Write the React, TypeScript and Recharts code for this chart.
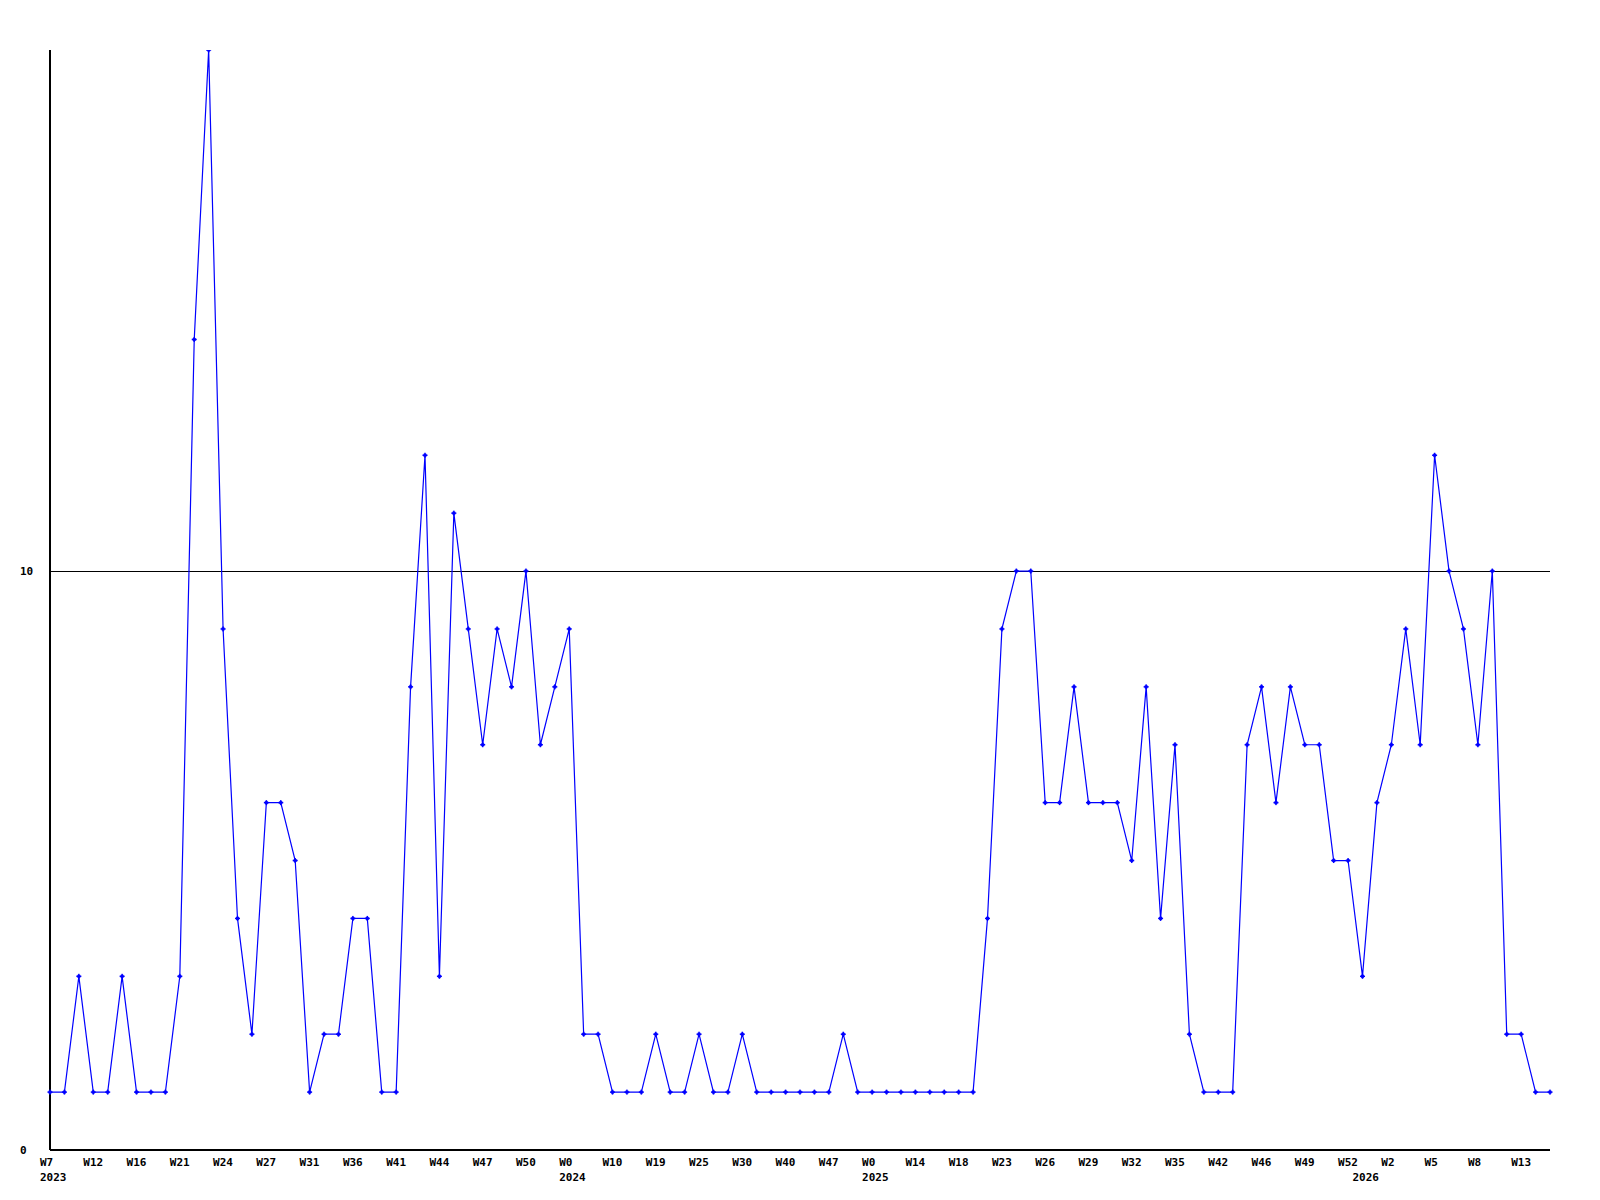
import React from 'react';
import { LineChart, Line, XAxis, YAxis, CartesianGrid } from 'recharts';

const values: number[] = [
  1, 1, 3, 1, 1, 3, 1, 1, 1, 3,
  14, 19, 9, 4, 2, 6, 6, 5, 1, 2,
  2, 4, 4, 1, 1, 8, 12, 3, 11, 9,
  7, 9, 8, 10, 7, 8, 9, 2, 2, 1,
  1, 1, 2, 1, 1, 2, 1, 1, 2, 1,
  1, 1, 1, 1, 1, 2, 1, 1, 1, 1,
  1, 1, 1, 1, 1, 4, 9, 10, 10, 6,
  6, 8, 6, 6, 6, 5, 8, 4, 7, 2,
  1, 1, 1, 7, 8, 6, 8, 7, 7, 5,
  5, 3, 6, 7, 9, 7, 12, 10, 9, 7,
  10, 2, 2, 1, 1,
];

const weekTickLabels: string[] = [
  'W7', 'W12', 'W16', 'W21', 'W24', 'W27', 'W31', 'W36', 'W41', 'W44',
  'W47', 'W50', 'W0', 'W10', 'W19', 'W25', 'W30', 'W40', 'W47', 'W0',
  'W14', 'W18', 'W23', 'W26', 'W29', 'W32', 'W35', 'W42', 'W46', 'W49',
  'W52', 'W2', 'W5', 'W8', 'W13',
];
const weekTickEvery = 3;

const yearNames: string[] = ['2023', '2024', '2025', '2026'];
const yearStartIndex: number[] = [0, 36, 57, 91];

const yTicks: number[] = [0, 10];
const gridValues: number[] = [10];

const data = values.map((v, i) => ({ idx: i, value: v }));

const FONT = '"DejaVu Sans Mono", monospace';

const XTick = (props: any) => {
  const { x, y, payload } = props;
  const i = payload.value as number;
  const week = i % weekTickEvery === 0 ? weekTickLabels[i / weekTickEvery] : undefined;
  const yi = yearStartIndex.indexOf(i);
  const year = yi >= 0 ? yearNames[yi] : undefined;
  return (
    <g>
      {week && (
        <text x={x - 10} y={y + 16} textAnchor="start" fontFamily={FONT} fontWeight="bold" fontSize={11} fill="#000">
          {week}
        </text>
      )}
      {year && (
        <text x={x - 10} y={y + 31} textAnchor="start" fontFamily={FONT} fontWeight="bold" fontSize={11} fill="#000">
          {year}
        </text>
      )}
    </g>
  );
};

const YTick = (props: any) => {
  const { y, payload } = props;
  return (
    <text x={20} y={y + 4} textAnchor="start" fontFamily={FONT} fontWeight="bold" fontSize={11} fill="#000">
      {payload.value}
    </text>
  );
};

const PlusDot = (props: any) => {
  const { cx, cy } = props;
  if (cx == null || cy == null) return null;
  return (
    <g>
      <rect x={cx - 2.5} y={cy - 0.75} width={5} height={1.5} fill="#0000ff" />
      <rect x={cx - 0.75} y={cy - 2.5} width={1.5} height={5} fill="#0000ff" />
      <rect x={cx - 1.5} y={cy - 1.5} width={3} height={3} fill="#0000ff" />
    </g>
  );
};

export default function App() {
  return (
    <div style={{ position: 'absolute', left: 0, top: 0, width: 1600, height: 1200, background: '#fff' }}>
      <LineChart width={1600} height={1200} data={data} margin={{ top: 50, right: 50, bottom: 0, left: 0 }}>
        <CartesianGrid
          vertical={false}
          horizontal={true}
          horizontalValues={gridValues}
          stroke="#000"
          strokeWidth={1}
          shapeRendering="crispEdges"
        />
        <XAxis
          dataKey="idx"
          type="category"
          interval={0}
          height={50}
          tickLine={false}
          tickSize={0}
          tickMargin={0}
          axisLine={{ stroke: '#000', strokeWidth: 1.5, shapeRendering: 'crispEdges' }}
          tick={<XTick />}
        />
        <YAxis
          domain={[0, 19]}
          ticks={yTicks}
          width={50}
          tickLine={false}
          tickSize={0}
          tickMargin={0}
          axisLine={{ stroke: '#000', strokeWidth: 1.5, shapeRendering: 'crispEdges' }}
          tick={<YTick />}
          allowDataOverflow
        />
        <Line
          type="linear"
          dataKey="value"
          stroke="#0000ff"
          strokeWidth={1.2}
          dot={<PlusDot />}
          activeDot={false}
          isAnimationActive={false}
        />
      </LineChart>
    </div>
  );
}
